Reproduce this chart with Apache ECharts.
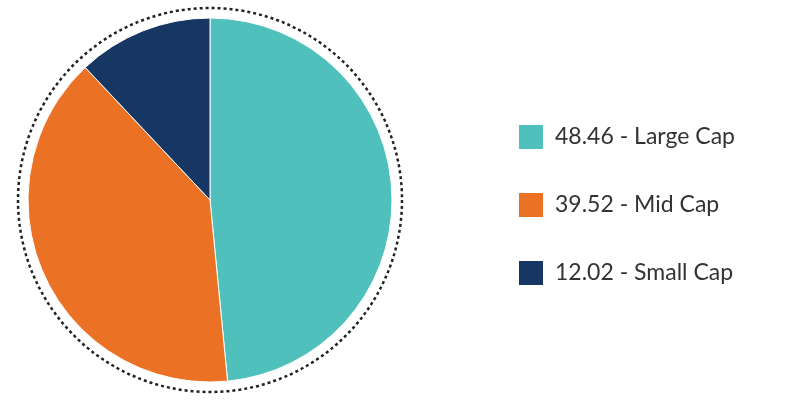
<!DOCTYPE html>
<html>
<head>
<meta charset="UTF-8">
<script src="https://cdn.jsdelivr.net/npm/echarts@6/dist/echarts.min.js"></script>
<style>
  * { margin: 0; padding: 0; }
  body { background: #fff; }
  #chart { width: 804px; height: 403px; }
</style>
</head>
<body>
<div id="chart"></div>
<script>
// data
const categories = ['Large Cap', 'Mid Cap', 'Small Cap'];
const values = [48.46, 39.52, 12.02];
const colors = ['#4fc0bb', '#eb7125', '#163663'];

const chart = echarts.init(document.getElementById('chart'));
chart.setOption({
  animation: false,
  color: colors,
  graphic: [{
    type: 'circle',
    shape: { cx: 210, cy: 200, r: 192 },
    style: { fill: 'none', stroke: '#222', lineWidth: 2.5, lineDash: [3, 3] },
    z: -1
  }],
  legend: {
    orient: 'vertical',
    left: 512,
    top: 118,
    itemWidth: 26,
    itemHeight: 26,
    itemGap: 40,
    icon: 'rect',
    textStyle: { fontSize: 23, color: '#333', fontFamily: 'Lato, sans-serif', padding: [0, 0, 0, 6] },
    formatter: name => values[categories.indexOf(name)].toFixed(2) + ' - ' + name
  },
  series: [{
    type: 'pie',
    center: [210, 200],
    radius: [0, 182],
    startAngle: 90,
    clockwise: true,
    label: { show: false },
    labelLine: { show: false },
    itemStyle: { borderColor: '#fff', borderWidth: 1 },
    data: categories.map((c, i) => ({ name: c, value: values[i] }))
  }]
});
</script>
</body>
</html>
